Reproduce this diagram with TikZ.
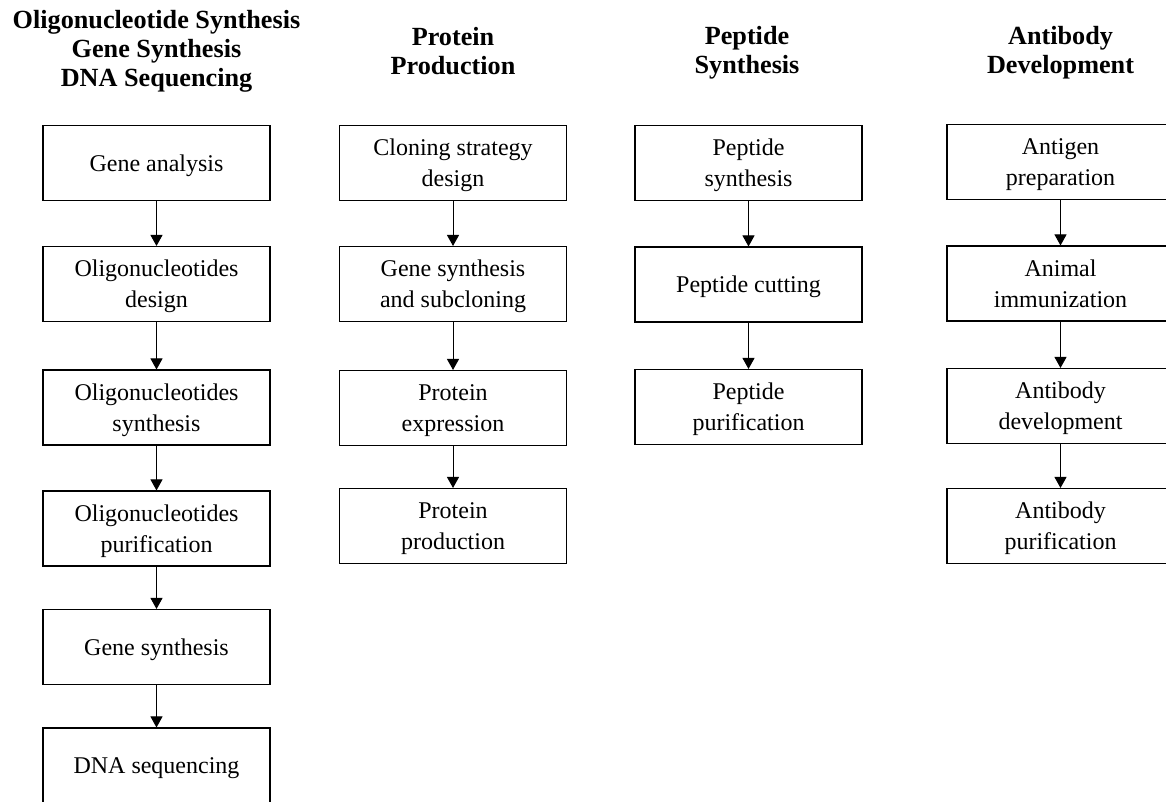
\documentclass[tikz,border=0pt]{standalone}
\usepackage{fontspec}
\setmainfont{Liberation Serif}
\usetikzlibrary{arrows.meta}

\tikzset{
    stepbox/.style={draw, line width=1.1pt, minimum width=227pt, minimum height=75pt,
        inner sep=2pt, align=center, text depth=0pt, font=\fontsize{24}{31}\selectfont},
    coltitle/.style={align=center, inner sep=0pt, font=\fontsize{26.2}{29}\selectfont\bfseries},
    flow/.style={-{Triangle[width=12pt,length=11pt]}, line width=1pt}
}

\begin{document}
\begin{tikzpicture}[x=1pt, y=-1pt]
    \fill[white] (0,0) rectangle (1166,801);
    \useasboundingbox (0,0) rectangle (1166,801);

    % column titles
    \node[coltitle] (t1) at (156.5,51) {Oligonucleotide Synthesis\\Gene Synthesis\\DNA Sequencing};
    \node[coltitle] (t2) at (453,51) {Protein\\Production};
    \node[coltitle] (t3) at (747,53) {Peptide\\Synthesis};
    \node[coltitle] (t4) at (1060.5,53) {Antibody\\Development};

    % gene synthesis column
    \node[stepbox] (g1) at (156.5,163) {Gene analysis};
    \node[stepbox] (g2) at (156.5,284) {Oligonucleotides\\design};
    \node[stepbox] (g3) at (156.5,407.5) {Oligonucleotides\\synthesis};
    \node[stepbox] (g4) at (156.5,528.5) {Oligonucleotides\\purification};
    \node[stepbox] (g5) at (156.5,647) {Gene synthesis};
    \node[stepbox] (g6) at (156.5,765.5) {DNA sequencing};

    % protein column
    \node[stepbox] (p1) at (453,163) {Cloning strategy\\design};
    \node[stepbox] (p2) at (453,284) {Gene synthesis\\and subcloning};
    \node[stepbox] (p3) at (453,408) {Protein\\expression};
    \node[stepbox] (p4) at (453,526) {Protein\\production};

    % peptide column
    \node[stepbox] (s1) at (748.5,163) {Peptide\\synthesis};
    \node[stepbox] (s2) at (748.5,284.5) {Peptide cutting};
    \node[stepbox] (s3) at (748.5,407) {Peptide\\purification};

    % antibody column
    \node[stepbox] (a1) at (1060.5,162) {Antigen\\preparation};
    \node[stepbox] (a2) at (1060.5,283.5) {Animal\\immunization};
    \node[stepbox] (a3) at (1060.5,406) {Antibody\\development};
    \node[stepbox] (a4) at (1060.5,526) {Antibody\\purification};

    \draw[flow] (g1) -- (g2);
    \draw[flow] (g2) -- (g3);
    \draw[flow] (g3) -- (g4);
    \draw[flow] (g4) -- (g5);
    \draw[flow] (g5) -- (g6);

    \draw[flow] (p1) -- (p2);
    \draw[flow] (p2) -- (p3);
    \draw[flow] (p3) -- (p4);

    \draw[flow] (s1) -- (s2);
    \draw[flow] (s2) -- (s3);

    \draw[flow] (a1) -- (a2);
    \draw[flow] (a2) -- (a3);
    \draw[flow] (a3) -- (a4);
\end{tikzpicture}
\end{document}
